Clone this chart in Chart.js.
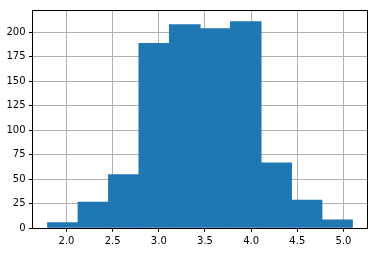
<!DOCTYPE html>
<html>
<head>
<meta charset="utf-8">
<script src="https://cdn.jsdelivr.net/npm/chart.js@4/dist/chart.umd.min.js"></script>
<style>
  html, body { margin: 0; padding: 0; background: #ffffff; }
  canvas { display: block; }
</style>
</head>
<body>
<canvas id="c" width="383" height="264"></canvas>
<script>
// Histogram bin edges (11 edges -> 10 bins)
const binEdges = [1.797, 2.127, 2.457, 2.786, 3.116, 3.446, 3.776, 4.106, 4.435, 4.765, 5.095];
// Counts per bin
const counts = [6, 27, 55, 189, 208, 204, 211, 67, 29, 9];
// Tick labels
const xTicks = [2.0, 2.5, 3.0, 3.5, 4.0, 4.5, 5.0];
const yTicks = [0, 25, 50, 75, 100, 125, 150, 175, 200];
// Axis limits
const xMin = 1.632, xMax = 5.260;
const yMin = 0, yMax = 222.4;

const points = counts.map((c, i) => ({ x: (binEdges[i] + binEdges[i + 1]) / 2, y: c }));

const frame = {
  id: 'frame',
  afterDraw(chart) {
    const a = chart.chartArea, ctx = chart.ctx;
    const l = Math.floor(a.left) + 0.5, t = Math.floor(a.top) + 0.5;
    const r = Math.floor(a.right) + 0.5, b = Math.floor(a.bottom) + 0.5;
    ctx.save();
    ctx.strokeStyle = '#000000';
    ctx.lineWidth = 1;
    ctx.strokeRect(l, t, r - l, b - t);
    ctx.restore();
  }
};

const font = { family: '"DejaVu Sans", sans-serif', size: 10 };

new Chart(document.getElementById('c'), {
  type: 'bar',
  data: {
    datasets: [{
      data: points,
      backgroundColor: '#1f77b4',
      borderWidth: 0,
      barPercentage: 1.04,
      categoryPercentage: 1.0
    }]
  },
  options: {
    responsive: false,
    animation: false,
    events: [],
    layout: { padding: { top: 10.2, right: 15.5, left: 0, bottom: 0 } },
    plugins: { legend: { display: false }, tooltip: { enabled: false } },
    scales: {
      x: {
        type: 'linear',
        min: xMin, max: xMax,
        offset: false,
        z: 1,
        afterBuildTicks(s) { s.ticks = xTicks.map(v => ({ value: v })); },
        afterFit(s) { s.height = 35.8; },
        ticks: {
          autoSkip: false, maxRotation: 0, minRotation: 0,
          padding: 3.5, color: '#000000', font,
          callback: v => Number(v).toFixed(1)
        },
        grid: {
          offset: false, color: '#b0b0b0', lineWidth: 1,
          drawTicks: true, tickLength: 3.5, tickColor: '#000000', tickWidth: 1
        },
        border: { display: false }
      },
      y: {
        type: 'linear',
        min: yMin, max: yMax,
        z: 1,
        afterBuildTicks(s) { s.ticks = yTicks.map(v => ({ value: v })); },
        afterFit(s) { s.width = 32.5; },
        ticks: {
          autoSkip: false, padding: 3.5, color: '#000000', font,
          callback: v => String(v)
        },
        grid: {
          color: '#b0b0b0', lineWidth: 1,
          drawTicks: true, tickLength: 3.5, tickColor: '#000000', tickWidth: 1
        },
        border: { display: false }
      }
    }
  },
  plugins: [frame]
});
</script>
</body>
</html>
